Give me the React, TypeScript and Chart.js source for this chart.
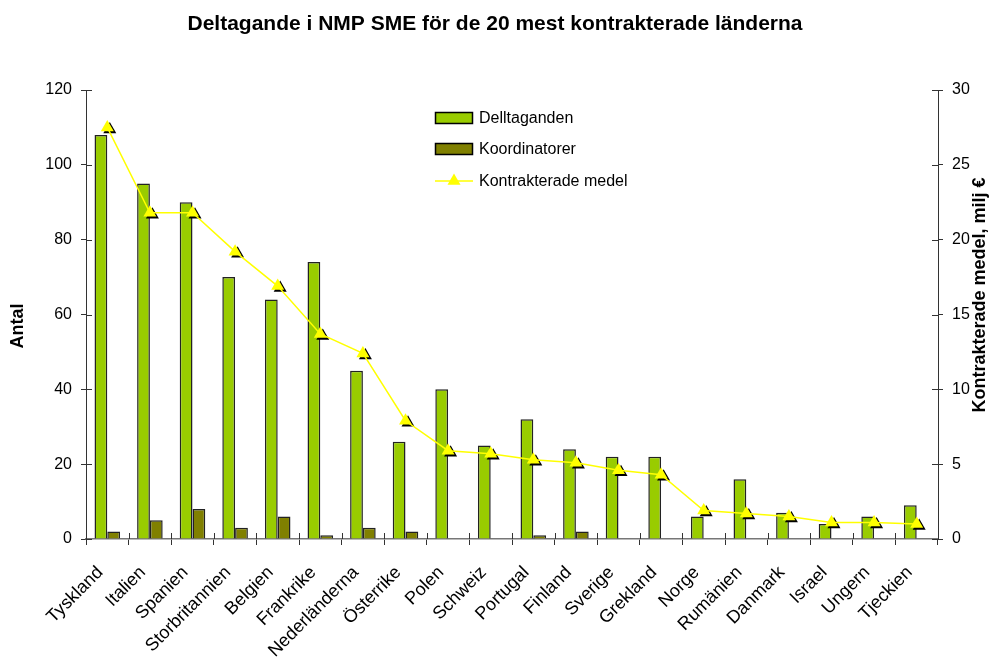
import React, { useEffect, useRef } from 'react';
import { Chart, registerables } from 'chart.js';

Chart.register(...registerables);

const categories = [
  'Tyskland', 'Italien', 'Spanien', 'Storbritannien', 'Belgien', 'Frankrike',
  'Nederländerna', 'Österrike', 'Polen', 'Schweiz', 'Portugal', 'Finland',
  'Sverige', 'Grekland', 'Norge', 'Rumänien', 'Danmark', 'Israel', 'Ungern', 'Tjeckien',
];
const delltaganden = [108, 95, 90, 70, 64, 74, 45, 26, 40, 25, 32, 24, 22, 22, 6, 16, 7, 4, 6, 9];
const koordinatorer = [2, 5, 8, 3, 6, 1, 3, 2, 0, 0, 1, 2, 0, 0, 0, 0, 0, 0, 0, 0];
const kontrakteradeMedel = [27.5, 21.8, 21.8, 19.2, 16.9, 13.7, 12.4, 7.9, 5.9, 5.7, 5.3, 5.1, 4.6, 4.3, 1.9, 1.7, 1.5, 1.1, 1.1, 1.0];

const titleText = 'Deltagande i NMP SME för de 20 mest kontrakterade länderna';
const leftAxisTitle = 'Antal';
const rightAxisTitle = 'Kontrakterade medel, milj €';
const seriesNames = ['Delltaganden', 'Koordinatorer', 'Kontrakterade medel'];

const FONT = '"Liberation Sans", Arial, Helvetica, sans-serif';
const GREEN = '#99CC00';
const OLIVE = '#808000';
const YELLOW = '#FFFF00';
const AXIS = '#333333';

function triangle(ctx: CanvasRenderingContext2D, x: number, y: number, r: number) {
  ctx.beginPath();
  ctx.moveTo(x, y - r);
  ctx.lineTo(x + r * Math.sin((2 * Math.PI) / 3), y - r * Math.cos((2 * Math.PI) / 3));
  ctx.lineTo(x + r * Math.sin((4 * Math.PI) / 3), y - r * Math.cos((4 * Math.PI) / 3));
  ctx.closePath();
  ctx.fill();
}

const decorPlugin = {
  id: 'decor',
  beforeDatasetDraw(chart: any, args: any) {
    if (args.index !== 2) return;
    const ctx = chart.ctx as CanvasRenderingContext2D;
    const meta = chart.getDatasetMeta(2);
    ctx.save();
    ctx.fillStyle = '#000';
    meta.data.forEach((el: any) => triangle(ctx, el.x + 2.5, el.y + 2, 7.5));
    ctx.restore();
  },
  afterDraw(chart: any) {
    const ctx = chart.ctx as CanvasRenderingContext2D;
    const { x, y, y1 } = chart.scales;
    const area = chart.chartArea;
    ctx.save();
    // inner tick halves
    ctx.strokeStyle = AXIS;
    ctx.lineWidth = 1;
    ctx.beginPath();
    const n = categories.length;
    for (let i = 0; i <= n; i++) {
      let px: number;
      if (i === 0) px = area.left;
      else if (i === n) px = area.right;
      else px = (x.getPixelForValue(i - 1) + x.getPixelForValue(i)) / 2;
      px = Math.round(px) + 0.5;
      ctx.moveTo(px, area.bottom);
      ctx.lineTo(px, area.bottom - 6);
    }
    y.ticks.forEach((t: any) => {
      const py = Math.round(y.getPixelForValue(t.value)) + 0.5;
      ctx.moveTo(area.left, py);
      ctx.lineTo(area.left + 6, py);
    });
    y1.ticks.forEach((t: any) => {
      const py = Math.round(y1.getPixelForValue(t.value)) + 0.5;
      ctx.moveTo(area.right, py);
      ctx.lineTo(area.right - 6, py);
    });
    ctx.stroke();

    // title
    ctx.fillStyle = '#000';
    ctx.font = `bold 21px ${FONT}`;
    ctx.textAlign = 'center';
    ctx.textBaseline = 'alphabetic';
    ctx.fillText(titleText, 495, 30);

    // axis titles
    ctx.font = `bold 18px ${FONT}`;
    ctx.textBaseline = 'middle';
    ctx.save();
    ctx.translate(18, 326);
    ctx.rotate(-Math.PI / 2);
    ctx.fillText(leftAxisTitle, 0, 0);
    ctx.restore();
    ctx.save();
    ctx.translate(980, 295);
    ctx.rotate(-Math.PI / 2);
    ctx.fillText(rightAxisTitle, 0, 0);
    ctx.restore();

    // legend
    ctx.font = `16px ${FONT}`;
    ctx.textAlign = 'left';
    ctx.textBaseline = 'middle';
    const rows = [118, 149, 181];
    const bx = 435;
    const bw = 38;
    [GREEN, OLIVE].forEach((c, i) => {
      ctx.fillStyle = c;
      ctx.fillRect(bx, rows[i] - 5.5, bw, 11);
      ctx.strokeStyle = '#000';
      ctx.lineWidth = 1.5;
      ctx.strokeRect(bx + 0.5, rows[i] - 5.5, bw - 1, 11);
    });
    ctx.strokeStyle = YELLOW;
    ctx.lineWidth = 1.5;
    ctx.beginPath();
    ctx.moveTo(bx, rows[2]);
    ctx.lineTo(bx + bw, rows[2]);
    ctx.stroke();
    ctx.fillStyle = YELLOW;
    triangle(ctx, bx + bw / 2, rows[2], 7.5);
    ctx.fillStyle = '#000';
    seriesNames.forEach((s, i) => ctx.fillText(s, 479, rows[i] + 1));
    ctx.restore();
  },
};

export default function App() {
  const ref = useRef<HTMLCanvasElement | null>(null);

  useEffect(() => {
    document.body.style.margin = '0';
    if (!ref.current) return;
    Chart.defaults.font.family = FONT;
    Chart.defaults.color = '#000';
    const chart = new Chart(ref.current, {
      type: 'bar',
      data: {
        labels: categories,
        datasets: [
          {
            type: 'bar',
            label: seriesNames[0],
            data: delltaganden,
            backgroundColor: GREEN,
            borderColor: '#222',
            borderWidth: 1.5,
            yAxisID: 'y',
            order: 2,
          },
          {
            type: 'bar',
            label: seriesNames[1],
            data: koordinatorer,
            backgroundColor: OLIVE,
            borderColor: '#222',
            borderWidth: 1.5,
            yAxisID: 'y',
            order: 2,
          },
          {
            type: 'line',
            label: seriesNames[2],
            data: kontrakteradeMedel,
            borderColor: YELLOW,
            borderWidth: 1.5,
            backgroundColor: YELLOW,
            pointStyle: 'triangle',
            pointRadius: 7.5,
            pointBorderWidth: 0,
            pointBackgroundColor: YELLOW,
            yAxisID: 'y1',
            order: 1,
            tension: 0,
          } as any,
        ],
      },
      options: {
        responsive: false,
        animation: false,
        layout: { padding: { top: 90, left: 0, right: 0, bottom: 0 } },
        datasets: {
          bar: { barPercentage: 1, categoryPercentage: 0.6 },
        },
        plugins: {
          legend: { display: false },
          title: { display: false },
          tooltip: { enabled: false },
        },
        scales: {
          x: {
            type: 'category',
            offset: true,
            grid: { offset: true, drawOnChartArea: false, tickLength: 6, color: AXIS },
            border: { color: '#777', width: 1.5 },
            ticks: {
              maxRotation: 45,
              minRotation: 45,
              autoSkip: false,
              font: { size: 18 },
              padding: 10,
              color: '#000',
              callback: (_v: any, i: number) => categories[i] + '  ',
            },
            afterFit: (s: any) => { s.height = 118; },
          },
          y: {
            position: 'left',
            min: 0,
            max: 120,
            ticks: { stepSize: 20, font: { size: 16 }, padding: 9, color: '#000' },
            grid: { drawOnChartArea: false, tickLength: 5, color: AXIS },
            border: { color: AXIS, width: 1 },
            afterFit: (s: any) => { s.width = 86; },
          },
          y1: {
            position: 'right',
            min: 0,
            max: 30,
            ticks: { stepSize: 5, font: { size: 16 }, padding: 9, color: '#000' },
            grid: { drawOnChartArea: false, tickLength: 5, color: AXIS },
            border: { color: AXIS, width: 1 },
            afterFit: (s: any) => { s.width = 58; },
          },
        },
      },
      plugins: [decorPlugin],
    });
    return () => chart.destroy();
  }, []);

  return (
    <div style={{ width: 996, height: 657, background: '#fff' }}>
      <canvas ref={ref} width={996} height={657} style={{ display: 'block' }} />
    </div>
  );
}
